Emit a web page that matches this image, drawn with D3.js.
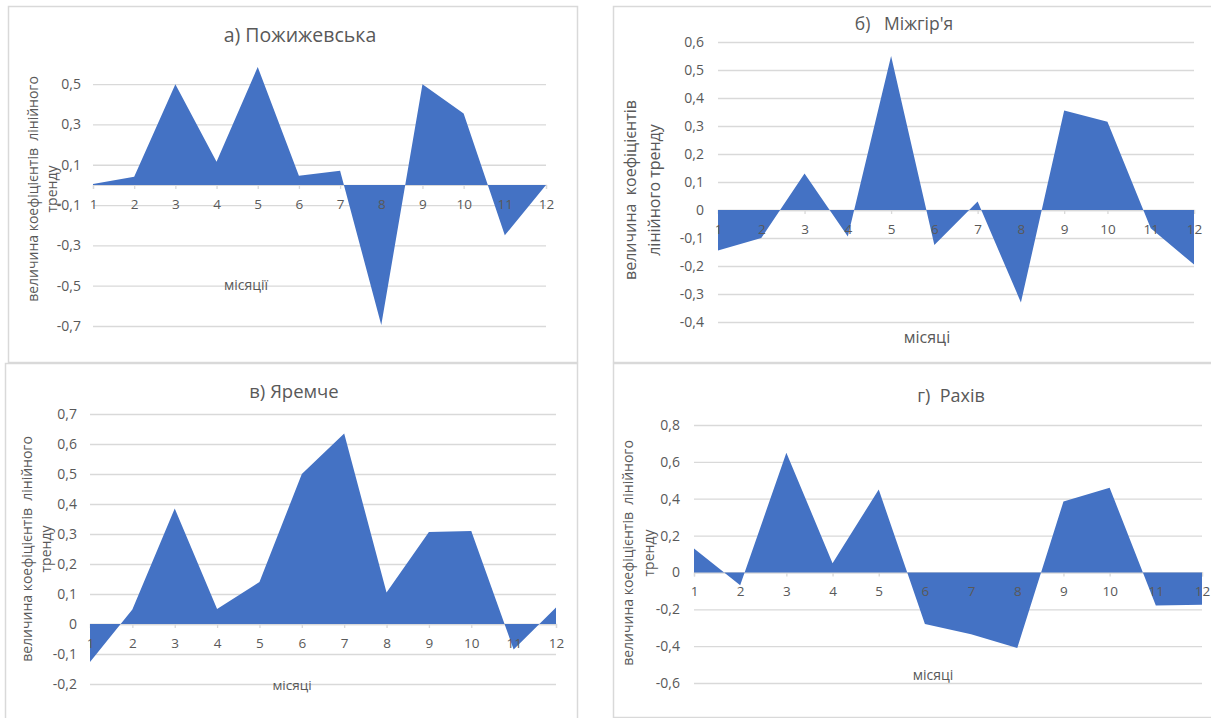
<!DOCTYPE html>
<html><head><meta charset="utf-8">
<script src="https://cdn.jsdelivr.net/npm/d3@7"></script>
<style>
html,body{margin:0;padding:0;background:#fff;}
svg{display:block;font-family:"Open Sans",sans-serif;}
</style></head>
<body><svg id="c" width="1211" height="718"></svg>
<script>
// ---- data ----
const months = [1,2,3,4,5,6,7,8,9,10,11,12];
const valuesA = [0.005,0.04,0.5,0.115,0.585,0.045,0.07,-0.695,0.5,0.355,-0.25,0.0];
const valuesB = [-0.145,-0.10,0.13,-0.095,0.55,-0.125,0.03,-0.33,0.355,0.315,-0.065,-0.195];
const valuesC = [-0.127,0.048,0.385,0.05,0.14,0.5,0.635,0.105,0.307,0.31,-0.085,0.055];
const valuesD = [0.13,-0.07,0.65,0.05,0.45,-0.28,-0.335,-0.41,0.385,0.46,-0.18,-0.175];
const ticksA = [-0.7,-0.5,-0.3,-0.1,0.1,0.3,0.5];
const ticksB = [-0.4,-0.3,-0.2,-0.1,0,0.1,0.2,0.3,0.4,0.5,0.6];
const ticksC = [-0.2,-0.1,0,0.1,0.2,0.3,0.4,0.5,0.6,0.7];
const ticksD = [-0.6,-0.4,-0.2,0,0.2,0.4,0.6,0.8];
const domainA = [-0.7,0.6], domainB = [-0.4,0.6], domainC = [-0.2,0.7], domainD = [-0.6,0.8];
const titles = ["а) Пожижевська","б)   Міжгір'я","в) Яремче","г)  Рахів"];
const yTitlesA = ["величина коефіцієнтів  лінійного","тренду"];
const yTitlesB = ["величина  коефіцієнтів","лінійного тренду"];
const xTitles = ["місяції","місяці","місяці","місяці"];

// ---- layout ----
const panels = [
 {vals:valuesA, ticks:ticksA, dom:domainA, title:titles[0], yt:yTitlesA, xt:xTitles[0],
  box:[8,6,569,356], xr:[93,546], yr:[326,64], tickR:81,
  tpos:[300,35,19.5], ylines:[[33,189],[52,189]], ysize:14, xtpos:[246,285,14]},
 {vals:valuesB, ticks:ticksB, dom:domainB, title:titles[1], yt:yTitlesB, xt:xTitles[1],
  box:[613,6,610,356], xr:[718,1194], yr:[322,42], tickR:704,
  tpos:[904,24,17.5], ylines:[[630,190],[654,190]], ysize:16, xtpos:[927,337,16]},
 {vals:valuesC, ticks:ticksC, dom:domainC, title:titles[2], yt:yTitlesA, xt:xTitles[2],
  box:[5,363,572,360], xr:[90,556], yr:[684,414], tickR:77,
  tpos:[294,392,18.5], ylines:[[27,549],[46,549]], ysize:14, xtpos:[292,685,13.5]},
 {vals:valuesD, ticks:ticksD, dom:domainD, title:titles[3], yt:yTitlesA, xt:xTitles[3],
  box:[613,363,610,354], xr:[694,1202], yr:[683,425], tickR:680,
  tpos:[951,396,18], ylines:[[628,553],[649,553]], ysize:14, xtpos:[933,675,14]}
];

const svg = d3.select("#c");
const grey = "#595959", gridC = "#d9d9d9", fillC = "#4472C4";
const fmt = d => d === 0 ? "0" : d3.format(".1f")(d).replace(".",",").replace("−","-");

panels.forEach(p => {
  const g = svg.append("g");
  g.append("rect").attr("x",p.box[0]+0.5).attr("y",p.box[1]+0.5)
    .attr("width",p.box[2]).attr("height",p.box[3])
    .attr("fill","#fff").attr("stroke",gridC).attr("stroke-width",1.5);
  const x = d3.scalePoint().domain(months).range(p.xr);
  const y = d3.scaleLinear().domain(p.dom).range(p.yr);
  // gridlines + y labels
  const yAxis = d3.axisLeft(y).tickValues(p.ticks).tickSize(-(p.xr[1]-p.xr[0]))
     .tickPadding(p.xr[0]-p.tickR).tickFormat(fmt);
  const ga = g.append("g").attr("transform",`translate(${p.xr[0]},0)`).call(yAxis);
  ga.select(".domain").remove();
  ga.selectAll(".tick line").attr("stroke",gridC).attr("stroke-width",1.3);
  ga.selectAll(".tick text").attr("fill",grey).attr("font-size",14).attr("font-family","Open Sans");
  // x axis line + tick marks at zero (below the area)
  const gxl = g.append("g").attr("transform",`translate(0,${y(0)})`)
     .call(d3.axisBottom(x).tickSize(4).tickFormat(""));
  gxl.select(".domain").attr("stroke",gridC).attr("stroke-width",1.3);
  gxl.selectAll(".tick line").attr("stroke",gridC).attr("stroke-width",1.3);
  // area
  const area = d3.area().x((d,i)=>x(months[i])).y0(y(0)).y1(d=>y(d));
  g.append("path").datum(p.vals).attr("d",area).attr("fill",fillC);
  // x tick labels (above the area)
  const gx = g.append("g").attr("transform",`translate(0,${y(0)})`)
     .call(d3.axisBottom(x).tickSize(0).tickPadding(14));
  gx.select(".domain").remove();
  gx.selectAll(".tick text").attr("fill",grey).attr("font-size",13.5).attr("font-family","Open Sans");
  // title
  g.append("text").attr("x",p.tpos[0]).attr("y",p.tpos[1]).attr("dy","0.35em")
    .attr("text-anchor","middle").attr("font-size",p.tpos[2]).attr("fill",grey)
    .style("white-space","pre").text(p.title);
  // y title
  p.yt.forEach((t,i)=>{
    g.append("text").attr("transform",`translate(${p.ylines[i][0]},${p.ylines[i][1]}) rotate(-90)`)
      .attr("dy","0.35em").attr("text-anchor","middle").attr("font-size",p.ysize)
      .attr("fill",grey).style("white-space","pre").text(t);
  });
  // x title
  g.append("text").attr("x",p.xtpos[0]).attr("y",p.xtpos[1]).attr("dy","0.35em")
    .attr("text-anchor","middle").attr("font-size",p.xtpos[2]).attr("fill",grey).text(p.xt);
});
</script></body></html>
